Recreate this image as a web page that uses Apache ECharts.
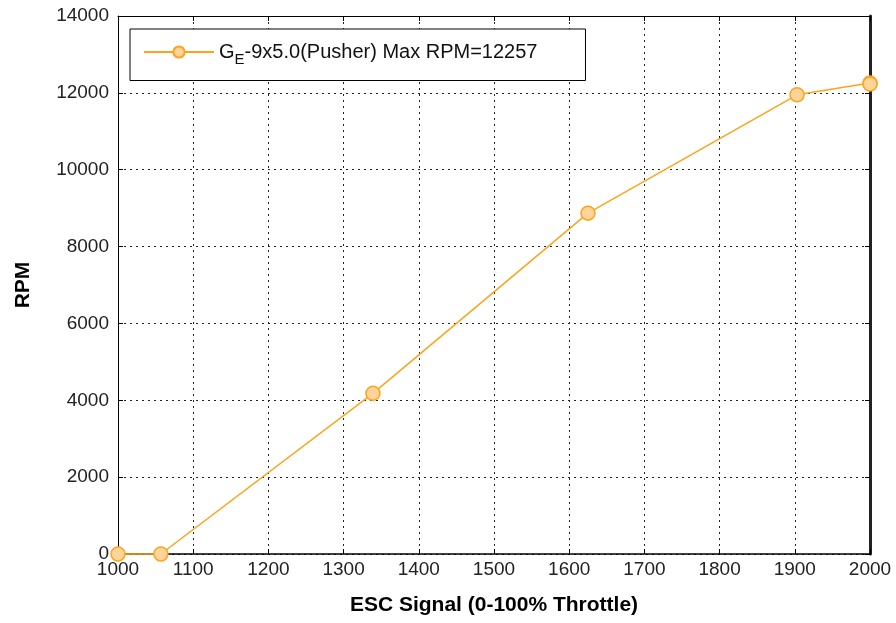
<!DOCTYPE html>
<html>
<head>
<meta charset="utf-8">
<script src="https://cdn.jsdelivr.net/npm/echarts@6/dist/echarts.min.js"></script>
<style>
  html, body { margin: 0; padding: 0; background: #fff; }
  #chart { width: 896px; height: 623px; }
</style>
</head>
<body>
<div id="chart"></div>
<script>
// ESC signal vs RPM
var escSignal = [1000, 1057, 1339, 1625, 1903, 2000, 2000];
var rpmValues = [0, 0, 4180, 8870, 11950, 12257, 12230];
var xTicks = [1000, 1100, 1200, 1300, 1400, 1500, 1600, 1700, 1800, 1900, 2000];
var yTicks = [0, 2000, 4000, 6000, 8000, 10000, 12000, 14000];
var seriesName = 'GE-9x5.0(Pusher) Max RPM=12257';

var font = '"Liberation Sans", Arial, sans-serif';

var chart = echarts.init(document.getElementById('chart'));

var points = escSignal.map(function (x, i) { return [x, rpmValues[i]]; });

var gridLine = { show: true, lineStyle: { color: '#222', type: [2, 4], width: 1 } };
var plainLabel = function (v) { return String(v); };

var option = {
    backgroundColor: '#fff',
    animation: false,
    grid: { left: 118, right: 26, top: 16, bottom: 69 },
    legend: {
        left: 130,
        top: 29,
        padding: [13, 48, 13, 13],
        backgroundColor: '#fff',
        borderColor: '#000',
        borderWidth: 1,
        itemWidth: 70,
        itemHeight: 14,
        data: [seriesName],
        formatter: function () {
            return '{a|G}{b|E}{a|-9x5.0(Pusher) Max RPM=12257}';
        },
        textStyle: {
            fontFamily: font,
            color: '#111',
            rich: {
                a: { fontFamily: font, fontSize: 20, color: '#111' },
                b: { fontFamily: font, fontSize: 15, color: '#111', padding: [16, 0, 0, 0] }
            }
        }
    },
    xAxis: [{
        type: 'value',
        min: 1000,
        max: 2000,
        interval: 100,
        name: 'ESC Signal (0-100% Throttle)',
        nameLocation: 'middle',
        nameGap: 41,
        nameTextStyle: { fontFamily: font, fontSize: 21, fontWeight: 'bold', color: '#000' },
        axisLine: { show: true, lineStyle: { color: '#000', width: 1.5 } },
        axisTick: { show: true, inside: true, length: 5, lineStyle: { color: '#000' } },
        axisLabel: { fontFamily: font, fontSize: 19, color: '#222', margin: 6, formatter: plainLabel },
        splitLine: gridLine
    }, {
        type: 'value',
        position: 'top',
        min: 1000,
        max: 2000,
        interval: 100,
        axisLine: { show: true, onZero: false, lineStyle: { color: '#000', width: 1 } },
        axisTick: { show: true, inside: true, length: 5, lineStyle: { color: '#000' } },
        axisLabel: { show: false },
        splitLine: { show: false }
    }],
    yAxis: [{
        type: 'value',
        min: 0,
        max: 14000,
        interval: 2000,
        name: 'RPM',
        nameLocation: 'middle',
        nameGap: 84,
        nameTextStyle: { fontFamily: font, fontSize: 21, fontWeight: 'bold', color: '#000' },
        axisLine: { show: true, lineStyle: { color: '#000', width: 1 } },
        axisTick: { show: true, inside: true, length: 5, lineStyle: { color: '#000' } },
        axisLabel: { fontFamily: font, fontSize: 19, color: '#222', margin: 9, formatter: plainLabel },
        splitLine: gridLine
    }, {
        type: 'value',
        position: 'right',
        min: 0,
        max: 14000,
        interval: 2000,
        axisLine: { show: true, onZero: false, lineStyle: { color: '#222', width: 3 } },
        axisTick: { show: true, inside: true, length: 5, lineStyle: { color: '#000' } },
        axisLabel: { show: false },
        splitLine: { show: false }
    }],
    series: [{
        name: seriesName,
        type: 'line',
        data: points,
        symbol: 'circle',
        symbolSize: 14,
        clip: false,
        lineStyle: { color: '#FFA31A', width: 1.5 },
        itemStyle: { color: '#FFD49A', borderColor: '#FFA31A', borderWidth: 1.5 }
    }]
};

chart.setOption(option);
</script>
</body>
</html>
